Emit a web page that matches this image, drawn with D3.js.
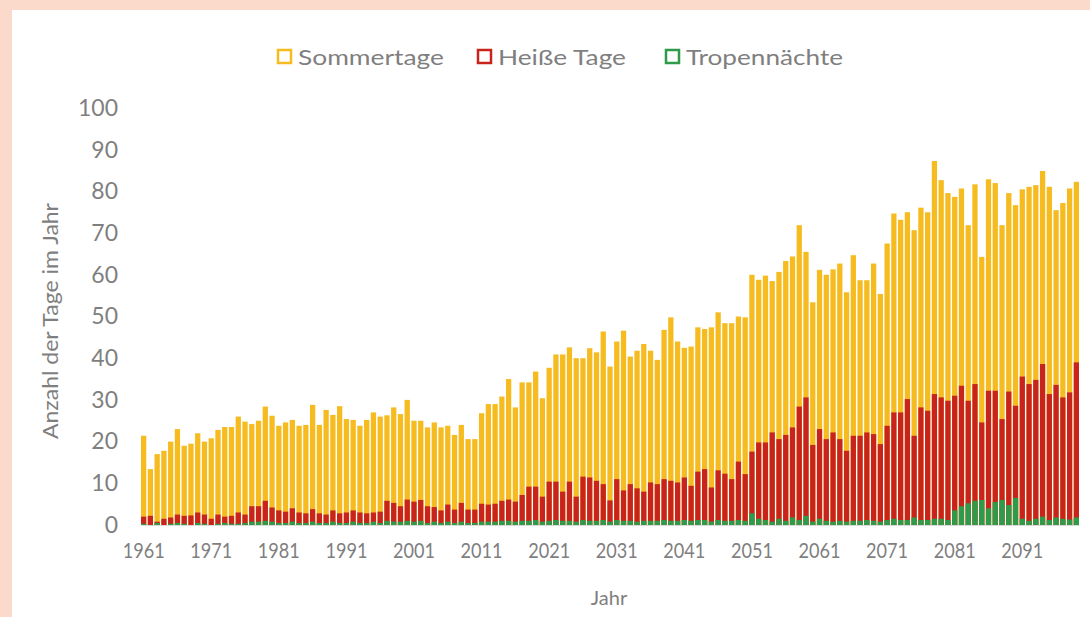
<!DOCTYPE html>
<html>
<head>
<meta charset="utf-8">
<script src="https://cdn.jsdelivr.net/npm/d3@7"></script>
<style>
  html, body { margin: 0; padding: 0; background: #fbdacb; }
  svg { display: block; }
  text { font-family: Lato, "Open Sans", sans-serif; fill: #7f7f7f; }
</style>
</head>
<body>
<script>
// years 1961..2099
const firstYear = 1961;

// Sommertage (>= 25 °C)
const sommertage = [
  21.4, 13.4, 17, 17.8, 20, 23, 19, 19.5, 22, 20,
  20.8, 22.8, 23.5, 23.5, 26, 24.8, 24.2, 25, 28.4, 26.2,
  23.8, 24.6, 25.2, 23.8, 24, 28.8, 24, 27.6, 26.4, 28.5,
  25.4, 25.2, 23.8, 25.2, 27, 26, 26.3, 28.2, 26.6, 30,
  25, 25, 23.4, 24.6, 23.4, 23.8, 21.6, 24, 20.6, 20.6,
  26.8, 29, 29, 30.8, 35, 28.2, 34.2, 34.2, 36.8, 30.4,
  37.7, 40.9, 40.9, 42.6, 40, 40, 42.4, 41.4, 46.4, 38,
  44, 46.6, 40.4, 41.8, 43.4, 41.8, 39.6, 46.8, 49.8, 44,
  42.5, 42.8, 47.4, 47, 47.4, 51, 48.4, 48.4, 50, 49.8,
  60, 58.8, 59.8, 58.5, 60.7, 63.3, 64.4, 71.9, 65.5, 53.4,
  61.2, 60, 61.3, 62.7, 55.8, 64.7, 58.7, 58.7, 62.7, 55.4,
  67.5, 74.7, 73.2, 75, 70.7, 76.1, 75, 87.3, 82.7, 79.6,
  78.7, 80.7, 71.9, 81.7, 64.3, 82.9, 82, 71.9, 79.6, 76.7,
  80.5, 81.1, 81.5, 84.9, 81.1, 75.5, 77.2, 80.7, 82.3
];

// Heiße Tage (>= 30 °C)
const heisseTage = [
  2, 2.2, 0.8, 1.5, 1.8, 2.5, 2.2, 2.3, 3, 2.5,
  1.5, 2.5, 2, 2.2, 3, 2.5, 4.5, 4.5, 5.8, 4.2,
  3.5, 3.2, 4, 3, 2.8, 3.8, 2.8, 2.5, 3.5, 2.8,
  3, 3.5, 3, 2.8, 3, 3.2, 5.8, 5.3, 4.5, 6.1,
  5.6, 6, 4.5, 4.3, 3.5, 4.9, 3.7, 5.3, 3.7, 3.7,
  5.1, 4.9, 5.1, 5.8, 6.1, 5.6, 7.2, 9.2, 9.2, 6.8,
  10.4, 10.4, 8, 10.4, 6.8, 11.6, 11.4, 10.6, 9.8, 5.9,
  11, 8.3, 9.8, 8.8, 8, 10.2, 9.8, 11, 10.6, 10.2,
  11.4, 9.4, 12.8, 13.4, 9, 13.1, 12.3, 11, 15.2, 12.2,
  17.6, 19.8, 19.8, 22.2, 20.6, 21.6, 23.4, 28.4, 30.6, 19.2,
  23, 20.6, 22.2, 20.6, 17.8, 21.4, 21.4, 22.2, 21.8, 19.4,
  23.8, 27, 27, 30.2, 21.4, 28.2, 27.4, 31.4, 30.6, 29.8,
  31, 33.4, 29.8, 33.8, 24.6, 32.2, 32.2, 25.4, 32, 28.6,
  35.6, 33.8, 34.8, 38.6, 31.4, 33.6, 30.6, 31.8, 39
];

// Tropennächte (Tmin >= 20 °C)
const tropennaechte = [
  0.3, 0, 0.5, 0, 0.3, 0.5, 0.3, 0, 0.5, 0.3,
  0, 0.3, 0.5, 0.3, 0.3, 0.5, 0.8, 0.8, 1, 0.8,
  0.5, 0.5, 0.8, 0.5, 0.5, 0.8, 0.5, 0.5, 0.8, 0.5,
  0.5, 0.8, 0.5, 0.5, 0.8, 0.5, 1, 0.8, 0.8, 1,
  0.8, 1, 0.5, 0.8, 0.5, 0.8, 0.5, 0.8, 0.5, 0.5,
  0.8, 0.8, 0.8, 1, 1, 0.8, 1, 1, 1.2, 0.8,
  1, 1.2, 1, 1, 0.8, 1.2, 1, 1, 1.2, 0.8,
  1.2, 1, 1, 0.8, 1, 1, 1, 1.2, 1, 1,
  1.2, 1, 1.2, 1.2, 0.8, 1.2, 1, 1, 1.2, 1,
  2.8, 1.5, 1.2, 0.8, 1.5, 1, 1.8, 1.2, 2.2, 0.8,
  1.5, 1, 0.8, 1, 0.8, 1, 1, 1.2, 1, 0.8,
  1.2, 1.5, 1.2, 1.2, 1.8, 1.2, 1.2, 1.5, 1.5, 1.2,
  3.5, 4.5, 5.2, 5.8, 6, 4, 5.5, 6, 4.8, 6.5,
  1.5, 1, 1.5, 2, 1.2, 1.8, 1.5, 1.3, 1.8
];

const yTicks = [0, 10, 20, 30, 40, 50, 60, 70, 80, 90, 100];
const xLabelYears = [1961, 1971, 1981, 1991, 2001, 2011, 2021, 2031, 2041, 2051, 2061, 2071, 2081, 2091];

const seriesNames = ["Sommertage", "Heiße Tage", "Tropennächte"];
const seriesColors = ["#f6bb1f", "#c8241c", "#2e9a4a"];

const years = sommertage.map((d, i) => firstYear + i);

const width = 1090, height = 617;
const svg = d3.select("body").append("svg")
    .attr("width", width)
    .attr("height", height);

// white panel on peach background
svg.append("rect")
    .attr("x", 12).attr("y", 10)
    .attr("width", width - 12).attr("height", height - 10)
    .attr("fill", "#ffffff");

const x = d3.scaleBand()
    .domain(years)
    .range([141, 1079])
    .paddingInner(0.22);

const y = d3.scaleLinear()
    .domain([0, 100])
    .range([525, 108]);

// y axis (labels only)
const yAxis = svg.append("g")
    .attr("transform", "translate(120,0)")
    .call(d3.axisLeft(y).tickValues(yTicks).tickSize(0).tickPadding(2));
yAxis.select(".domain").remove();
yAxis.selectAll("text")
    .style("font-size", "23px")
    .attr("fill", "#808080");

// bars: drawn over each other, biggest first
const layers = [sommertage, heisseTage, tropennaechte];
layers.forEach(function (values, k) {
    svg.append("g")
        .selectAll("rect")
        .data(values)
        .enter()
        .append("rect")
        .attr("x", (d, i) => x(years[i]))
        .attr("y", d => y(d))
        .attr("width", x.bandwidth())
        .attr("height", d => y(0) - y(d))
        .attr("fill", seriesColors[k]);
});

// x axis
const xAxis = svg.append("g")
    .attr("transform", "translate(0," + y(0) + ")")
    .call(d3.axisBottom(x).tickValues(xLabelYears).tickSize(0).tickPadding(18));
xAxis.select(".domain").attr("stroke", "#d9d9d9");
xAxis.selectAll("text")
    .style("font-size", "21px")
    .attr("fill", "#808080")
    .attr("textLength", 42)
    .attr("lengthAdjust", "spacingAndGlyphs");

// axis titles
svg.append("text")
    .attr("transform", "translate(58,321) rotate(-90)")
    .attr("text-anchor", "middle")
    .style("font-size", "21px")
    .attr("textLength", 236)
    .attr("lengthAdjust", "spacingAndGlyphs")
    .text("Anzahl der Tage im Jahr");

svg.append("text")
    .attr("x", 609).attr("y", 605)
    .attr("text-anchor", "middle")
    .style("font-size", "20px")
    .text("Jahr");

// legend
const legendX = [278, 478, 666];
const legendW = [146, 128, 157];
const legend = svg.append("g");
seriesNames.forEach(function (name, k) {
    legend.append("rect")
        .attr("x", legendX[k]).attr("y", 50)
        .attr("width", 13).attr("height", 13)
        .attr("fill", "#ffffff")
        .attr("stroke", seriesColors[k])
        .attr("stroke-width", 2.5);
    legend.append("text")
        .attr("x", legendX[k] + 20).attr("y", 65)
        .style("font-size", "22px")
        .attr("textLength", legendW[k])
        .attr("lengthAdjust", "spacingAndGlyphs")
        .text(name);
});
</script>
</body>
</html>
